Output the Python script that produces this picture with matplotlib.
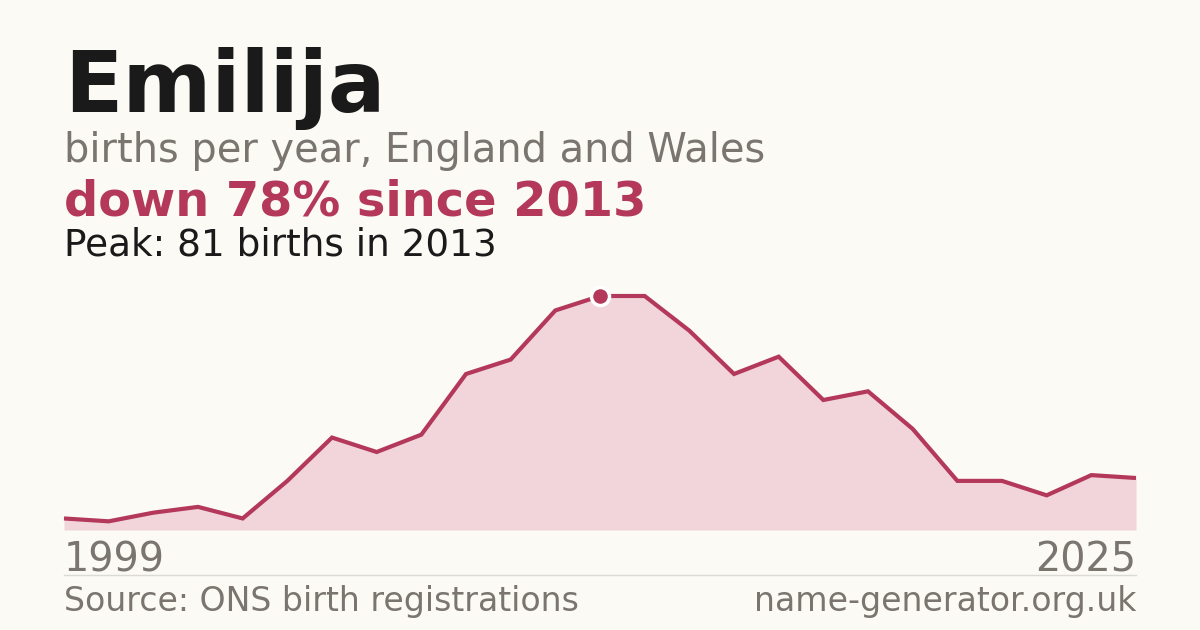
import matplotlib
matplotlib.use("Agg")
import matplotlib.pyplot as plt

name = "Emilija"
subtitle = "births per year, England and Wales"
headline = "down 78% since 2013"
peak_text = "Peak: 81 births in 2013"
source = "Source: ONS birth registrations"
site = "name-generator.org.uk"
first_label = "1999"
last_label = "2025"

births = [4, 3, 6, 8, 4, 17, 32, 27, 33, 54, 59, 76, 81,
          81, 69, 54, 60, 45, 48, 35, 17, 17, 12, 19, 18]
peak_index = 12

BG = "#fbfaf5"
RED = "#b3385a"
FILL = "#f2d5db"
GREY = "#7a756e"
DARK = "#1a1a1a"

W, H = 1200, 630
fig = plt.figure(figsize=(W / 100, H / 100), dpi=100, facecolor=BG)
plt.rcParams['font.family'] = ['DejaVu Sans']

def py(y):
    return 1 - y / H

ax = fig.add_axes([64 / W, py(530), 1072 / W, (530 - 296) / H])
ax.set_facecolor(BG)
ax.patch.set_alpha(0)
xs = list(range(len(births)))
ax.fill_between(xs, births, 0, color=FILL, lw=0, zorder=1)
ax.plot(xs, births, color=RED, lw=3.0, solid_joinstyle='miter', solid_capstyle='butt',
        zorder=2, clip_on=False)
ax.plot([xs[peak_index]], [births[peak_index]], 'o', ms=13, mfc=RED, mec='white',
        mew=2.5, zorder=3, clip_on=False)
ax.set_xlim(0, len(births) - 1)
ax.set_ylim(0, max(births))
ax.axis('off')

fig.text(64 / W, py(112), name, fontsize=61.5, fontweight='bold', color=DARK, va='baseline', ha='left')
fig.text(64 / W, py(162), subtitle, fontsize=28.7, color=GREY, va='baseline', ha='left')
fig.text(64 / W, py(216), headline, fontsize=34.5, fontweight='bold', color=RED, va='baseline', ha='left')
fig.text(64 / W, py(256), peak_text, fontsize=26.9, color=DARK, va='baseline', ha='left')

fig.text(64 / W, py(571), first_label, fontsize=28.6, color=GREY, va='baseline', ha='left')
fig.text(1136 / W, py(571), last_label, fontsize=28.6, color=GREY, va='baseline', ha='right')

fig.add_artist(plt.Line2D([64 / W, 1136 / W], [py(574.5), py(574.5)], color="#dcdad4", lw=1))

fig.text(64 / W, py(611), source, fontsize=23.9, color=GREY, va='baseline', ha='left')
fig.text(1136 / W, py(611), site, fontsize=23.9, color=GREY, va='baseline', ha='right')

fig.savefig("out.png", dpi=100, facecolor=BG)
